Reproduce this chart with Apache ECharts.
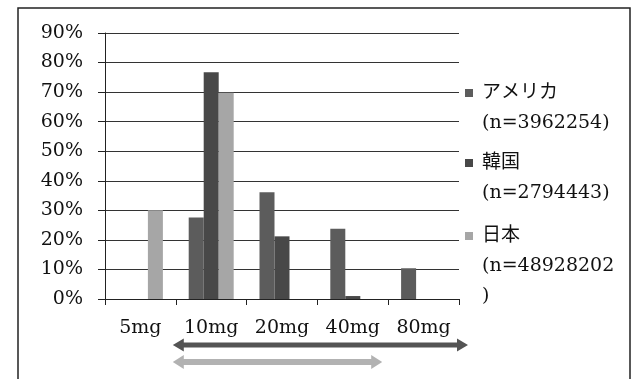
<!DOCTYPE html>
<html>
<head>
<meta charset="utf-8">
<script src="https://cdn.jsdelivr.net/npm/echarts@6/dist/echarts.min.js"></script>
<style>html,body{margin:0;padding:0;background:#fff}#c{width:635px;height:379px}</style>
</head>
<body>
<div id="c"></div>
<script>
const categories = ['5mg', '10mg', '20mg', '40mg', '80mg'];
const seriesNames = ['アメリカ', '韓国', '日本'];
const seriesCounts = ['(n=3962254)', '(n=2794443)', '(n=48928202\n)'];
const usaValues = [0, 27.6, 36.1, 23.8, 10.4];
const koreaValues = [0, 76.7, 21.2, 1.0, 0];
const japanValues = [30.0, 69.8, 0, 0, 0];
const yTicks = [0, 10, 20, 30, 40, 50, 60, 70, 80, 90];

const colors = ['#5c5c5c', '#484848', '#a6a6a6'];
const FONT = '"DejaVu Serif", "Noto Sans CJK JP", serif';
const LH = 30;
const legendIconCenters = [93, 163, 236];

function legendText(name) {
  const i = seriesNames.indexOf(name);
  const lines = [name].concat(seriesCounts[i].split('\n'));
  const k = lines.length - 1;
  return '\n'.repeat(k) + lines.join('\n');
}

const legends = seriesNames.map((n, i) => {
  const content = 1 + seriesCounts[i].split('\n').length;
  const N = 2 * content - 1;
  return {
    data: [n],
    orient: 'vertical',
    left: 465,
    top: legendIconCenters[i] - N * LH / 2,
    padding: 0,
    icon: 'rect',
    itemWidth: 8,
    itemHeight: 8,
    itemGap: 0,
    formatter: legendText,
    textStyle: {
      fontFamily: FONT,
      fontSize: 19,
      color: '#111',
      lineHeight: LH,
      padding: [0, 0, 0, 4]
    }
  };
});

const chart = echarts.init(document.getElementById('c'), null, {renderer: 'canvas'});
const valuesList = [usaValues, koreaValues, japanValues];
chart.setOption({
  animation: false,
  backgroundColor: '#fff',
  grid: {left: 105, right: 176, top: 33, bottom: 80},
  legend: legends,
  xAxis: {
    type: 'category',
    data: categories,
    boundaryGap: true,
    axisLine: {show: true, lineStyle: {color: '#222', width: 1}},
    axisTick: {show: true, length: 6, lineStyle: {color: '#222'}},
    axisLabel: {fontFamily: FONT, fontSize: 19, color: '#111', margin: 20}
  },
  yAxis: {
    type: 'value',
    min: yTicks[0],
    max: yTicks[yTicks.length - 1],
    interval: 10,
    axisLine: {show: true, lineStyle: {color: '#222', width: 1}},
    axisTick: {show: true, length: 7, lineStyle: {color: '#222'}},
    axisLabel: {fontFamily: FONT, fontSize: 19, color: '#111', margin: 22, formatter: '{value}%'},
    splitLine: {show: true, lineStyle: {color: '#333', width: 1}}
  },
  series: seriesNames.map((n, i) => ({
    name: n,
    type: 'bar',
    data: valuesList[i],
    barWidth: 15,
    barGap: '0%',
    itemStyle: {color: colors[i]}
  }))
});

// decorative arrows below the axis, positioned from the category axis
function px(cat) { return chart.convertToPixel({xAxisIndex: 0}, cat); }
const catW = px(categories[1]) - px(categories[0]);
function arrowPts(x1, x2, y, shaft, head, headLen, leftHead) {
  const s = shaft / 2, h = head / 2;
  const pts = [];
  if (leftHead) {
    pts.push([x1, y], [x1 + headLen, y - h], [x1 + headLen, y - s]);
  } else {
    pts.push([x1, y - s]);
  }
  pts.push([x2 - headLen, y - s], [x2 - headLen, y - h], [x2, y], [x2 - headLen, y + h], [x2 - headLen, y + s]);
  if (leftHead) {
    pts.push([x1 + headLen, y + s], [x1 + headLen, y + h]);
  } else {
    pts.push([x1, y + s]);
  }
  return pts;
}
const darkStart = px(categories[1]) - catW / 2 - 3;
const darkEnd = px(categories[4]) + catW / 2 + 9;
const lightEnd = px(categories[3]) + catW / 2 - 6;
chart.setOption({
  graphic: [
    {type: 'rect', shape: {x: 18, y: 8, width: 612, height: 400}, style: {fill: 'none', stroke: '#222', lineWidth: 1.5}, silent: true},
    {type: 'polygon', shape: {points: arrowPts(darkStart, darkEnd, 345, 5, 13, 11, true)}, style: {fill: '#545454'}, silent: true},
    {type: 'polygon', shape: {points: arrowPts(darkStart, lightEnd, 362, 6, 14, 11, true)}, style: {fill: '#b2b2b2'}, silent: true}
  ]
});
</script>
</body>
</html>
